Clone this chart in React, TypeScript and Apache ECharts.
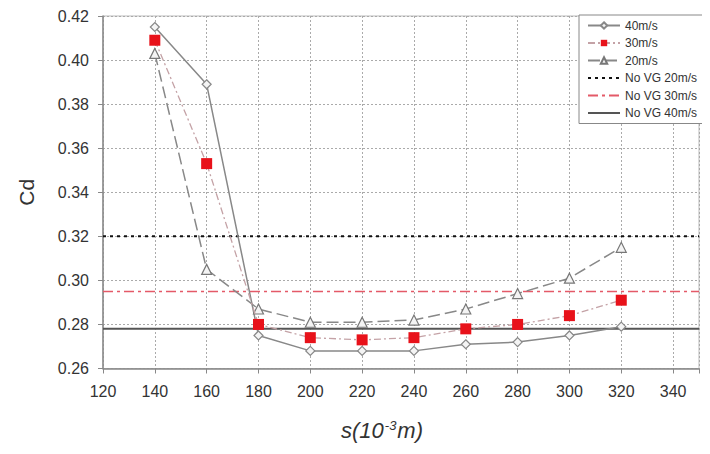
import React, { useEffect, useRef } from "react";
import * as echarts from "echarts";

// Spacing s (10^-3 m) and drag coefficient for each wind speed
const spacing = [140, 160, 180, 200, 220, 240, 260, 280, 300, 320];
const cd40 = [0.415, 0.389, 0.275, 0.268, 0.268, 0.268, 0.271, 0.272, 0.275, 0.279];
const cd30 = [0.409, 0.353, 0.28, 0.274, 0.273, 0.274, 0.278, 0.28, 0.284, 0.291];
const cd20 = [0.403, 0.305, 0.287, 0.281, 0.281, 0.282, 0.287, 0.294, 0.301, 0.315];

// Reference values without vortex generators
const noVg20 = 0.32;
const noVg30 = 0.295;
const noVg40 = 0.278;

const xRange = [120, 350];

const font = "'Liberation Sans', Arial, sans-serif";

const pairs = (ys: number[]) => spacing.map((x, i) => [x, ys[i]]);
const flat = (v: number) => xRange.map((x) => [x, v]);

export default function App() {
  const ref = useRef<HTMLDivElement>(null);

  useEffect(() => {
    if (!ref.current) return;
    const chart = echarts.init(ref.current, undefined, { renderer: "svg" });
    chart.setOption({
      animation: false,
      backgroundColor: "#fff",
      grid: {
        left: 80,
        top: 6,
        right: 0,
        bottom: 69,
        show: true,
        borderColor: "#bbb",
        borderWidth: 1,
      },
      legend: {
        orient: "vertical",
        left: 571,
        top: 7,
        padding: [4, 7, 4, 8],
        itemGap: 4.5,
        itemWidth: 32,
        itemHeight: 8,
        backgroundColor: "#fff",
        borderColor: "#888",
        borderWidth: 1,
        textStyle: { fontFamily: font, fontSize: 12, color: "#333", lineHeight: 13 },
        data: [
          "40m/s",
          "30m/s",
          "20m/s",
          { name: "No VG 20m/s", itemStyle: { opacity: 0 } },
          { name: "No VG 30m/s", itemStyle: { opacity: 0 } },
          { name: "No VG 40m/s", itemStyle: { opacity: 0 } },
        ],
      },
      xAxis: {
        type: "value",
        min: xRange[0],
        max: xRange[1],
        interval: 20,
        name: "s(10{sup|-3}m)",
        nameLocation: "middle",
        nameGap: 50,
        nameTextStyle: {
          fontFamily: font,
          fontSize: 22,
          fontStyle: "italic",
          color: "#333",
          padding: [0, 38, 0, 0],
          rich: {
            sup: { fontSize: 13, fontStyle: "italic", verticalAlign: "top", padding: [0, 1, 10, 1], color: "#333", fontFamily: font },
          },
        },
        axisLine: { lineStyle: { color: "#888", width: 1.5 } },
        axisTick: { show: true, length: 5, lineStyle: { color: "#888" } },
        axisLabel: {
          fontFamily: font,
          fontSize: 16,
          color: "#333",
          margin: 15,
          formatter: (v: number) => (v === 350 ? "" : String(v)),
        },
        splitLine: { show: true, lineStyle: { color: "#aaa", type: [2, 2] } },
      },
      yAxis: {
        type: "value",
        min: 0.26,
        max: 0.42,
        interval: 0.02,
        name: "Cd",
        nameLocation: "middle",
        nameGap: 66,
        nameTextStyle: { fontFamily: font, fontSize: 21, color: "#333" },
        axisLine: { show: true, lineStyle: { color: "#888", width: 1.5 } },
        axisTick: { show: true, length: 5, lineStyle: { color: "#888" } },
        axisLabel: {
          fontFamily: font,
          fontSize: 16,
          color: "#333",
          margin: 14,
          formatter: (v: number) => v.toFixed(2),
        },
        splitLine: { show: true, lineStyle: { color: "#aaa", type: [2, 2] } },
      },
      series: [
        {
          name: "40m/s",
          type: "line",
          data: pairs(cd40),
          symbol: "diamond",
          symbolSize: 9,
          itemStyle: { color: "#f4f4f4", borderColor: "#888", borderWidth: 1.2 },
          lineStyle: { color: "#888", width: 1.5, type: "solid" },
          z: 4,
        },
        {
          name: "30m/s",
          type: "line",
          data: pairs(cd30),
          symbol: "rect",
          symbolSize: 11,
          itemStyle: { color: "#e8121a", borderColor: "#e8121a", borderWidth: 0 },
          lineStyle: { color: "#c4a2a6", width: 1.3, type: [7, 3, 2, 3] },
          z: 5,
        },
        {
          name: "20m/s",
          type: "line",
          data: pairs(cd20),
          symbol: "triangle",
          symbolSize: 10,
          itemStyle: { color: "#f4f4f4", borderColor: "#777", borderWidth: 1.2 },
          lineStyle: { color: "#888", width: 1.5, type: [12, 5] },
          z: 4,
        },
        {
          name: "No VG 20m/s",
          type: "line",
          data: flat(noVg20),
          symbol: "none",
          lineStyle: { color: "#111", width: 2, type: [3, 4] },
          z: 3,
        },
        {
          name: "No VG 30m/s",
          type: "line",
          data: flat(noVg30),
          symbol: "none",
          lineStyle: { color: "#e45a68", width: 1.5, type: [10, 4, 3, 4] },
          z: 3,
        },
        {
          name: "No VG 40m/s",
          type: "line",
          data: flat(noVg40),
          symbol: "none",
          lineStyle: { color: "#555", width: 2, type: "solid" },
          z: 3,
        },
      ],
    });
    return () => chart.dispose();
  }, []);

  return <div ref={ref} style={{ width: 694, height: 438 }} />;
}
